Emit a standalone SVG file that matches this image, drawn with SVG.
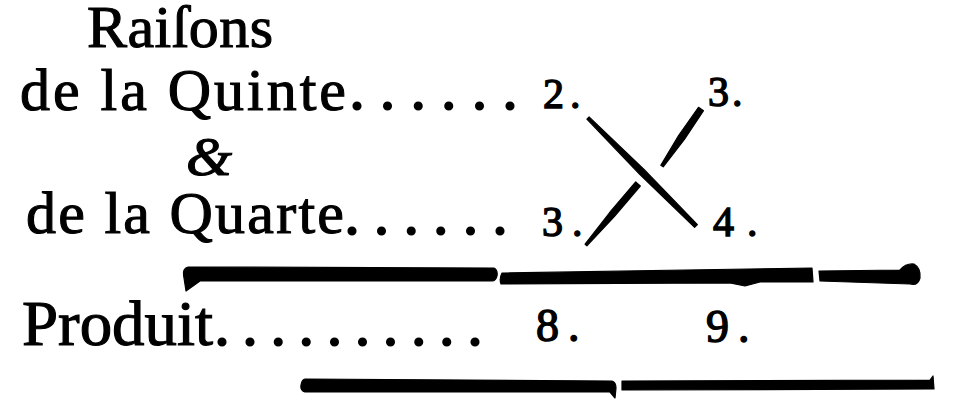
<svg xmlns="http://www.w3.org/2000/svg" width="972" height="410" viewBox="0 0 972 410">
<style>
  text { font-family: "Liberation Serif", "Times New Roman", serif; fill: #000; stroke: #000; stroke-width: 1.1; }
  .main { font-size: 60px; }
  .dots { font-size: 60px; stroke-width: 2; }
  .num { font-size: 42px; stroke-width: 1.4; }
  .num2 { font-size: 46px; stroke-width: 1.4; }
  .amp { font-size: 55px; font-style: italic; }
  .ink { fill: #000; stroke: #000; stroke-width: 1.2; stroke-linejoin: round; }
</style>
<rect width="972" height="410" fill="#fff"/>

<g id="title">
  <text class="main" x="87" y="47" textLength="186" lengthAdjust="spacing">Raiſons</text>
</g>

<g id="row-quinte">
  <text class="main" x="20" y="110" textLength="326" lengthAdjust="spacing">de la Quinte</text>
  <text class="dots" x="349.5" y="109" letter-spacing="15.6">......</text>
  <text class="num" x="543" y="108" letter-spacing="6">2.</text>
  <text class="num" x="708" y="106" letter-spacing="3">3.</text>
</g>

<g id="row-et">
  <text class="amp" x="186" y="175" textLength="46" lengthAdjust="spacingAndGlyphs">&amp;</text>
</g>

<g id="row-quarte">
  <text class="main" x="26" y="233" textLength="318" lengthAdjust="spacing">de la Quarte</text>
  <text class="dots" x="344.5" y="234" letter-spacing="14.6">......</text>
  <text class="num" x="542" y="236" letter-spacing="9">3.</text>
  <text class="num" x="713" y="236" letter-spacing="13">4.</text>
</g>

<g id="row-produit">
  <text class="main" x="22" y="345" font-size="64" textLength="191" lengthAdjust="spacingAndGlyphs" style="font-size:64px">Produit</text>
  <text class="dots" x="214.5" y="345" letter-spacing="13.1">..........</text>
  <text class="num2" x="536" y="341" letter-spacing="9">8.</text>
  <text class="num2" x="706" y="342" letter-spacing="9">9.</text>
</g>

<g id="connectors">
  <path class="ink" d="M589.1,116.9 L644.3,169.7 L697.4,224.6 L694.6,227.4 L639.7,174.3 L586.9,119.1 Z"/>
  <path class="ink" d="M698.5,107.3 L703.5,110.7 L684.4,139.5 L663.2,166.8 L660.8,165.2 L678.6,135.5 Z"/>
  <path class="ink" d="M635.7,182 L640.3,186 L614.3,216.5 L586.9,245.8 L585.1,244.2 L609.7,212.5 Z"/>
</g>

<g id="rules">
  <path class="ink" d="M188,267 L494,268 Q498,270 497,276 Q496,281 492,281 L200,281 L186,291 L184,278 Q182,268 188,267 Z"/>
  <path class="ink" d="M502,273 L812,268 L813,282 L760,282 L745,286 L730,283 L501,284 Q499,279 502,273 Z"/>
  <path class="ink" d="M819,271 L900,270 Q906,263 914,264 Q921,268 920,278 Q918,286 910,284 L820,281 Z"/>
  <path class="ink" d="M305,379 L612,381 Q616,382 616,388 L615,398 L610,392 L305,392 Q300,390 301,385 Q302,379 305,379 Z"/>
  <path class="ink" d="M622,381 L930,380 L933,376 L934,389 L622,390 Z"/>
</g>
</svg>
